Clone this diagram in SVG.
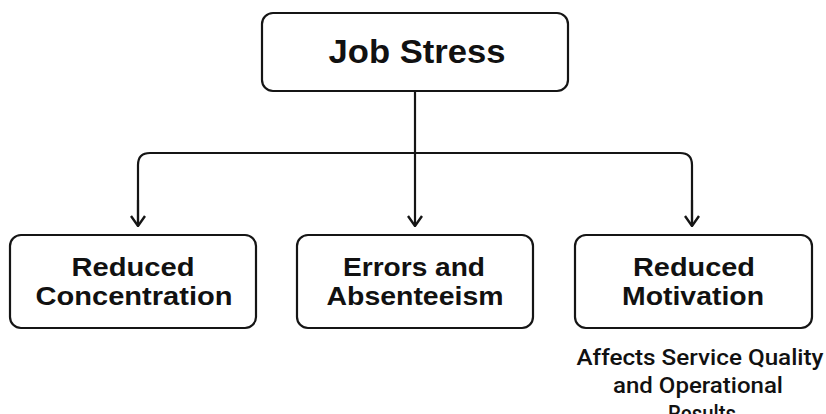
<svg xmlns="http://www.w3.org/2000/svg" width="826" height="414" viewBox="0 0 826 414">
<style>
.box{fill:#fff;stroke:#151515;stroke-width:2.2}
.t{font-family:"Liberation Sans",Arial,sans-serif;font-weight:bold;fill:#111;text-anchor:middle;font-size:25px}
.cap{font-family:Roboto,"Liberation Sans",sans-serif;font-weight:500;fill:#111;text-anchor:middle;font-size:21.5px}
.ln{fill:none;stroke:#151515;stroke-width:2.2}
</style>
<defs>
<marker id="ah" viewBox="0 0 12 16" refX="11" refY="8" markerWidth="12" markerHeight="16" markerUnits="userSpaceOnUse" orient="auto">
<path d="M1,1 L11,8 L1,15" fill="none" stroke="#151515" stroke-width="2.4"/>
</marker>
</defs>
<rect width="826" height="414" fill="#fff"/>
<g id="connectors">
<path class="ln" d="M415,91 V226" marker-end="url(#ah)"/>
<path class="ln" d="M138,226 V165 Q138,153 150,153 H680 Q692,153 692,165 V226"/>
<path class="ln" d="M138,200 V226" marker-end="url(#ah)"/>
<path class="ln" d="M692,200 V226" marker-end="url(#ah)"/>
</g>
<g id="job-stress">
<rect class="box" x="262" y="13" width="306" height="78" rx="11"/>
<text class="t" x="417" y="63" style="font-size:34px" textLength="177" lengthAdjust="spacingAndGlyphs">Job Stress</text>
</g>
<g id="reduced-concentration">
<rect class="box" x="10" y="235" width="246" height="93" rx="11"/>
<text class="t" x="133" y="276" textLength="123" lengthAdjust="spacingAndGlyphs">Reduced</text>
<text class="t" x="134" y="305" textLength="197" lengthAdjust="spacingAndGlyphs">Concentration</text>
</g>
<g id="errors-absenteeism">
<rect class="box" x="297" y="235" width="236" height="93" rx="11"/>
<text class="t" x="414" y="276" textLength="142" lengthAdjust="spacingAndGlyphs">Errors and</text>
<text class="t" x="415" y="305" textLength="177" lengthAdjust="spacingAndGlyphs">Absenteeism</text>
</g>
<g id="reduced-motivation">
<rect class="box" x="575" y="235" width="237" height="93" rx="11"/>
<text class="t" x="694" y="276" textLength="122" lengthAdjust="spacingAndGlyphs">Reduced</text>
<text class="t" x="693" y="305" textLength="142" lengthAdjust="spacingAndGlyphs">Motivation</text>
</g>
<g id="caption">
<text class="cap" x="700" y="365" textLength="247" lengthAdjust="spacingAndGlyphs">Affects Service Quality</text>
<text class="cap" x="698" y="393" textLength="170" lengthAdjust="spacingAndGlyphs">and Operational</text>
<text class="cap" x="702" y="421" textLength="68" lengthAdjust="spacingAndGlyphs">Results</text>
</g>
</svg>
